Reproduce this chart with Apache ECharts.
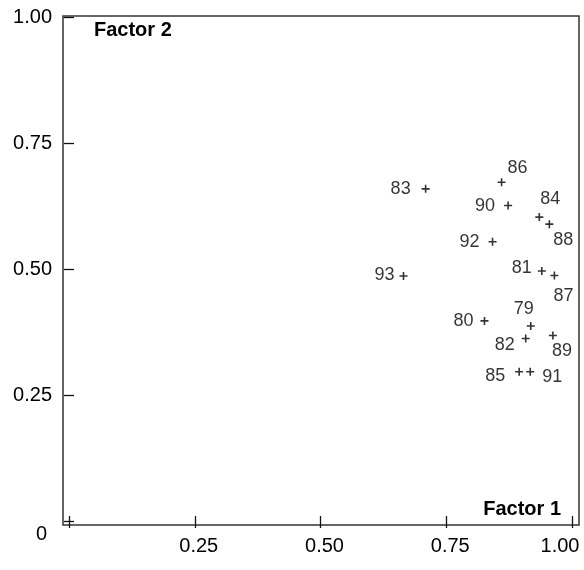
<!DOCTYPE html>
<html>
<head>
<meta charset="utf-8">
<script src="https://cdn.jsdelivr.net/npm/echarts@6/dist/echarts.min.js"></script>
<style>html,body{margin:0;padding:0;background:#fff;}#c{width:584px;height:570px;}</style>
</head>
<body>
<div id="c"></div>
<script>
// Data
const years   = ['79','80','81','82','83','84','85','86','87','88','89','90','91','92','93'];
const factor1 = [0.918,0.826,0.940,0.908,0.709,0.935,0.895,0.860,0.965,0.955,0.962,0.873,0.917,0.842,0.665];
const factor2 = [0.387,0.397,0.496,0.362,0.659,0.603,0.296,0.672,0.487,0.589,0.368,0.626,0.296,0.554,0.486];
const tickValues = [0, 0.25, 0.5, 0.75, 1];
const xTitle = 'Factor 1';
const yTitle = 'Factor 2';

// Label placement (style, per year)
const labelOffsets = {
  '79':[-7,-17], '80':[-21,0], '81':[-20,-3], '82':[-21,6], '83':[-25,0],
  '84':[11,-18], '85':[-24,4], '86':[16,-14], '87':[9,20], '88':[14,16],
  '89':[9,16], '90':[-23,1], '91':[22,5], '92':[-23,0], '93':[-19,-1]
};

const FONT = 'Liberation Sans, Arial, Helvetica, sans-serif';
const data = years.map((y, i) => ({
  value: [factor1[i], factor2[i]],
  name: y,
  label: { offset: labelOffsets[y] }
}));

const chart = echarts.init(document.getElementById('c'), null, { renderer: 'canvas' });
const baseX = { type: 'value', position: 'bottom', min: 0, max: 1, interval: 0.25, offset: 4,
  axisLine: { show: false }, splitLine: { show: false } };
const baseY = { type: 'value', position: 'left', min: 0, max: 1, interval: 0.25, offset: 6,
  axisLine: { show: false }, splitLine: { show: false } };

chart.setOption({
  animation: false,
  backgroundColor: '#fff',
  grid: { left: 69, right: 12, top: 17, bottom: 49 },
  xAxis: [
    Object.assign({}, baseX, {
      axisTick: { show: true, inside: false, length: 7, lineStyle: { color: '#111', width: 1.3 } },
      axisLabel: {
        margin: 11, color: '#000', fontFamily: FONT, fontSize: 20,
        formatter: v => v === 0 ? '' : (v === 1 ? '{r|1.00}' : '{n|' + v.toFixed(2) + '}'),
        rich: {
          r: { fontSize: 20, fontFamily: FONT, color: '#000', padding: [0, 24, 0, 0] },
          n: { fontSize: 20, fontFamily: FONT, color: '#000', padding: [0, 0, 0, 8] }
        }
      }
    }),
    Object.assign({}, baseX, {
      axisTick: { show: true, inside: true, length: 5, lineStyle: { color: '#111', width: 1.3 } },
      axisLabel: { show: false }
    })
  ],
  yAxis: [
    Object.assign({}, baseY, {
      axisTick: { show: true, inside: false, length: 5, lineStyle: { color: '#111', width: 1.3 } },
      axisLabel: {
        margin: 11, color: '#000', fontFamily: FONT, fontSize: 20,
        formatter: v => v === 0 ? '{z|0}' : v.toFixed(2),
        rich: { z: { fontSize: 20, fontFamily: FONT, color: '#000', padding: [26, 5, 0, 0] } }
      }
    }),
    Object.assign({}, baseY, {
      axisTick: { show: true, inside: true, length: 5, lineStyle: { color: '#111', width: 1.3 } },
      axisLabel: { show: false }
    })
  ],
  graphic: [
    { type: 'rect', silent: true, z: 0,
      shape: { x: 63, y: 16, width: 516, height: 509 },
      style: { fill: 'none', stroke: '#333', lineWidth: 1.5 } },
    { type: 'text', left: 94, top: 20,
      style: { text: yTitle, font: 'bold 20px ' + FONT, fill: '#000' } },
    { type: 'text', right: 23, top: 499,
      style: { text: xTitle, font: 'bold 20px ' + FONT, fill: '#000' } }
  ],
  series: [{
    type: 'scatter',
    xAxisIndex: 0, yAxisIndex: 0,
    symbol: 'path://M4,0H6V4H10V6H6V10H4V6H0V4H4Z',
    symbolSize: 8,
    itemStyle: { color: '#000' },
    label: {
      show: true, position: 'inside', formatter: '{b}',
      color: '#000', fontFamily: FONT, fontSize: 18
    },
    data: data
  }]
});
</script>
</body>
</html>
